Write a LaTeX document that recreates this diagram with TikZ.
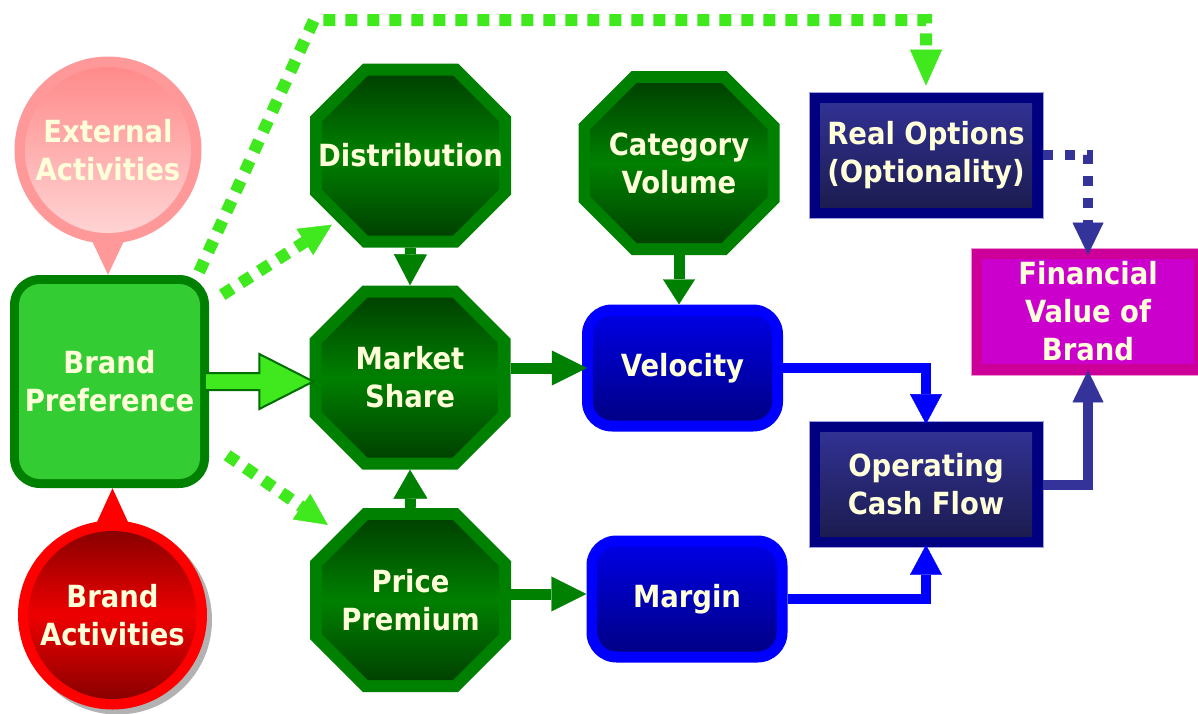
\documentclass[tikz,border=0pt]{standalone}
\usepackage{fontspec}
\usetikzlibrary{arrows.meta,calc}
\newfontfamily\lblfont{DejaVu Sans Condensed}[BoldFont={DejaVu Sans Condensed Bold}]

\definecolor{ivory}{RGB}{255,255,218}
\definecolor{dkgreen}{RGB}{0,128,0}
\definecolor{octdark}{RGB}{0,66,0}
\definecolor{bpgreen}{RGB}{51,204,51}
\definecolor{lime}{RGB}{64,232,30}
\definecolor{limeedge}{RGB}{0,110,0}
\definecolor{pureblue}{RGB}{0,0,255}
\definecolor{bluetop}{RGB}{0,0,235}
\definecolor{bluebot}{RGB}{0,0,125}
\definecolor{navy}{RGB}{0,0,128}
\definecolor{navytop}{RGB}{51,51,153}
\definecolor{navybot}{RGB}{26,26,74}
\definecolor{navyedge}{RGB}{160,160,225}
\definecolor{slate}{RGB}{51,51,153}
\definecolor{magring}{RGB}{204,0,153}
\definecolor{maginner}{RGB}{204,0,204}
\definecolor{magedge}{RGB}{235,150,210}
\definecolor{pinkring}{RGB}{255,153,153}
\definecolor{pinktop}{RGB}{255,134,134}
\definecolor{pinkbot}{RGB}{255,216,216}
\definecolor{redring}{RGB}{255,0,0}
\definecolor{reddark}{RGB}{125,0,0}
\definecolor{redmid}{RGB}{238,0,0}

% octagon inside the path picture box: #1 path options, #2 inset, #3 chamfer
\newcommand\octo[3]{%
  \path[#1] let \p1=(path picture bounding box.south west),
                \p2=(path picture bounding box.north east) in
    (\x1+#2+#3,\y1+#2) -- (\x2-#2-#3,\y1+#2) -- (\x2-#2,\y1+#2+#3)
    -- (\x2-#2,\y2-#2-#3) -- (\x2-#2-#3,\y2-#2) -- (\x1+#2+#3,\y2-#2)
    -- (\x1+#2,\y2-#2-#3) -- (\x1+#2,\y1+#2+#3) -- cycle;}
% inset panel inside the path picture box: #1 path options, #2 inset
\newcommand\insetbox[2]{%
  \path[#1] ($(path picture bounding box.south west)+(#2,#2)$)
    rectangle ($(path picture bounding box.north east)-(#2,#2)$);}

\begin{document}
\begin{tikzpicture}[x=1pt,y=-1pt,
  lbl/.style={font=\lblfont\bfseries\fontsize{30.5}{38}\selectfont,
    text=ivory, align=center, inner sep=0pt},
  octa/.style={lbl, minimum width=201pt, minimum height=184pt,
    path picture={\octo{fill=dkgreen}{0pt}{53pt}
      \octo{top color=octdark,bottom color=octdark,middle color=dkgreen}{12pt}{46pt}}},
  bluebox/.style={lbl, rounded corners=30pt, fill=pureblue,
    minimum width=201pt, minimum height=127pt,
    path picture={\insetbox{rounded corners=19pt,top color=bluetop,bottom color=bluebot}{11pt}}},
  navybox/.style={lbl, fill=navy, draw=navyedge, line width=0.8pt,
    minimum width=234pt, minimum height=126pt,
    path picture={\insetbox{top color=navytop,bottom color=navybot}{11pt}}},
  finbox/.style={lbl, fill=magring, draw=magedge, line width=0.8pt,
    minimum width=234pt, minimum height=127pt,
    path picture={\insetbox{fill=maginner}{11pt}}},
  bpbox/.style={lbl, rounded corners=30pt, fill=dkgreen,
    minimum width=199pt, minimum height=213pt,
    path picture={\insetbox{rounded corners=21pt,fill=bpgreen}{9pt}}},
  extbubble/.style={lbl, circle, fill=pinkring, minimum size=187pt,
    path picture={\path[top color=pinktop,bottom color=pinkbot]
      (path picture bounding box.center) circle (83pt);}},
  actbubble/.style={lbl, circle, fill=redring, minimum size=189pt,
    path picture={\path[top color=reddark,bottom color=reddark,middle color=redmid]
      (path picture bounding box.center) circle (84pt);}},
  garrow/.style={draw=dkgreen, line width=11pt},
  barrow/.style={draw=pureblue, line width=10pt},
  sarrow/.style={draw=slate, line width=10pt},
  gdots/.style={draw=lime, line width=12pt, dash pattern=on 12pt off 10pt},
  sdots/.style={draw=slate, line width=10pt, dash pattern=on 10pt off 12pt},
  blockarrow/.style={fill=lime, draw=limeedge, line width=2pt, line join=miter},
]
\useasboundingbox (0,0) rectangle (1198,713);
\clip (0,0) rectangle (1198,713);
\fill[white] (0,0) rectangle (1198,713);

% soft shadow under the Brand Activities bubble
\coordinate (actpos) at (112.5,615);
\fill[black,opacity=0.3] ([shift={(5pt,-5pt)}]actpos) circle (94.5pt);

% nodes
\node[bpbox] (bp) at (109.5,381.5) {Brand\\Preference};
\node[extbubble] (ext) at (108,150) {External\\Activities};
\node[actbubble] (act) at (actpos) {Brand\\Activities};

\node[octa] (dist) at (410.5,155.5) {Distribution};
\node[octa] (ms) at (410,377.5) {Market\\Share};
\node[octa] (pp) at (410.5,600) {Price\\Premium};
\node[octa] (cv) at (679,163) {Category\\Volume};

\node[bluebox] (vel) at (682.5,368) {Velocity};
\node[bluebox] (mg) at (687,599) {Margin};

\node[navybox] (ro) at (926,155) {Real Options\\(Optionality)};
\node[navybox] (ocf) at (926,484.5) {Operating\\Cash Flow};
\node[finbox] (fin) at (1088,311.5) {Financial\\Value of\\Brand};

% bubble pointers
\fill[pinkring] ([xshift=-17pt,yshift=5pt]ext.south) -- ([xshift=17pt,yshift=5pt]ext.south)
  -- (ext.south |- bp.north) -- cycle;
\fill[redring] ([xshift=-17pt,yshift=-5pt]act.north) -- ([xshift=17pt,yshift=-5pt]act.north)
  -- (act.north |- bp.south) -- cycle;

% wide arrow from Brand Preference into Market Share
\draw[blockarrow] let \p1=(bp.east), \p2=(ms.west) in
  (\x1-3pt,\y1+8.5pt) -- (\x2-50pt,\y1+8.5pt) -- (\x2-50pt,\y1+27.5pt) -- (\x2+4pt,\y1)
  -- (\x2-50pt,\y1-27.5pt) -- (\x2-50pt,\y1-8.5pt) -- (\x1-3pt,\y1-8.5pt);

% dotted influence arrows
\draw[gdots,-{Triangle[length=32pt,width=31pt,line width=0.4pt]}]
  ($(bp.north east)+(13,20)$) -- ($(dist.south west)+(22,-23)$);
\draw[gdots,-{Triangle[length=32pt,width=31pt,line width=0.4pt]}]
  ($(bp.south east)+(18,-33)$) -- ($(pp.north west)+(18,17)$);
\coordinate (bend) at (314,20);
\draw[gdots,-{Triangle[length=36pt,width=32pt,line width=0.4pt]}]
  ($(bp.north east)+(-10,-3)$) -- (bend) -| ([yshift=6pt]ro.north);
\draw[sdots,-{Triangle[length=32pt,width=31pt,line width=0.4pt]}]
  (ro.east) -| ([yshift=-7pt]fin.north);

% solid green arrows
\draw[garrow,-{Triangle[length=31pt,width=33pt,line width=0.4pt]}] (dist.south) -- (ms.north);
\draw[garrow,-{Triangle[length=29pt,width=34pt,line width=0.4pt]}] (pp.north) -- (ms.south);
\draw[garrow,-{Triangle[length=35pt,width=35pt,line width=0.4pt]}]
  (ms.east |- vel.west) -- ([xshift=5pt]vel.west);
\coordinate (ppout) at ([yshift=6pt]pp.east);
\draw[garrow,-{Triangle[length=35pt,width=35pt,line width=0.4pt]}] (ppout) -- (ppout -| mg.west);
\draw[garrow,-{Triangle[length=25pt,width=32pt,line width=0.4pt]}] (cv.south) -- (cv.south |- vel.north);

% cash flow arrows
\draw[barrow,-{Triangle[length=30pt,width=32pt,line width=0.4pt]}] (vel.east) -| ([yshift=-3pt]ocf.north);
\draw[barrow,-{Triangle[length=30pt,width=32pt,line width=0.4pt]}] (mg.east) -| ([yshift=3pt]ocf.south);
\draw[sarrow,-{Triangle[length=32pt,width=31pt,line width=0.4pt]}] (ocf.east) -| ([yshift=5pt]fin.south);
\end{tikzpicture}
\end{document}
